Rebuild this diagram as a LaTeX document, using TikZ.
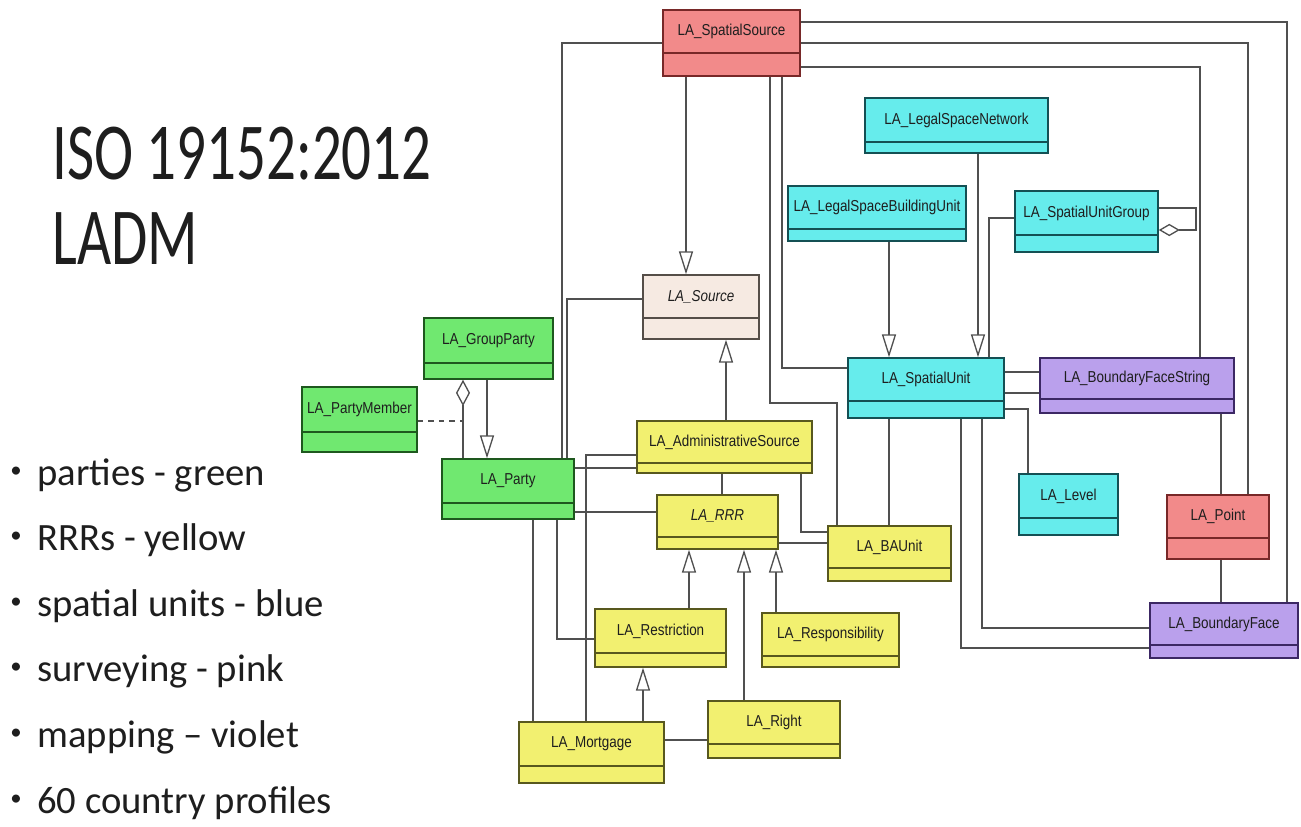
\documentclass[tikz,border=0pt]{standalone}
\usepackage{fontspec}
\setmainfont{Carlito}
\newfontfamily\umlfont{Liberation Sans}
\usepackage{graphicx}
\usepackage{tikz}
\usetikzlibrary{positioning,arrows.meta,calc,fit}
\usepackage{xcolor}

\definecolor{pinkfill}{RGB}{242,138,138}
\definecolor{pinkline}{RGB}{120,40,40}
\definecolor{beigefill}{RGB}{246,234,226}
\definecolor{beigeline}{RGB}{85,78,72}
\definecolor{yellowfill}{RGB}{242,240,112}
\definecolor{yellowline}{RGB}{88,88,30}
\definecolor{greenfill}{RGB}{112,232,112}
\definecolor{greenline}{RGB}{30,88,30}
\definecolor{cyanfill}{RGB}{102,236,236}
\definecolor{cyanline}{RGB}{20,80,84}
\definecolor{violetfill}{RGB}{186,160,236}
\definecolor{violetline}{RGB}{60,40,100}
\definecolor{linegray}{RGB}{80,80,80}
\definecolor{textgray}{RGB}{30,30,30}

\newcommand{\cname}[1]{\scalebox{0.85}[1]{#1}}

\begin{document}
\begin{tikzpicture}[
  x=0.02cm, y=-0.02cm,
  font=\umlfont\fontsize{9}{10}\selectfont,
  classbox/.style={rectangle, inner sep=0pt, line width=0.85pt},
  pinkbox/.style={fill=pinkfill, draw=pinkline},
  beigebox/.style={fill=beigefill, draw=beigeline},
  yellowbox/.style={fill=yellowfill, draw=yellowline},
  greenbox/.style={fill=greenfill, draw=greenline},
  cyanbox/.style={fill=cyanfill, draw=cyanline},
  violetbox/.style={fill=violetfill, draw=violetline},
  assoc/.style={draw=linegray, line width=0.75pt},
  gen/.style={assoc, -{Triangle[open, length=13pt, width=8pt]}},
  agg/.style={assoc, {Diamond[open, length=15pt, width=8pt]}-},
  aggloop/.style={assoc, -{Diamond[open, length=12pt, width=7pt]}},
  slidetext/.style={anchor=base west, inner sep=0pt, text=textgray},
]
  \fill[white] (0,0) rectangle (1301,827);
  \useasboundingbox (0,0) rectangle (1301,827);

  % Title
  \node[slidetext, font=\normalfont\fontsize{46}{50}\selectfont] (title) at (52,180)
    {\scalebox{0.73}[1]{ISO 19152:2012}};
  \node[slidetext, font=\normalfont\fontsize{46}{50}\selectfont] (subtitle) at (52,265)
    {\scalebox{0.73}[1]{LADM}};

  % Bullets
  \foreach \txt [count=\i] in {parties - green, RRRs - yellow, spatial units - blue,
      surveying - pink, mapping -- violet, 60 country profiles} {
    \node[slidetext, font=\normalfont\fontsize{13}{14}\selectfont] (dot\i) at (10,{485+65.6*(\i-1)}) {\raisebox{4.5pt}{•}};
    \node[slidetext, font=\normalfont\fontsize{22}{24}\selectfont] (item\i) at (37,{485+65.6*(\i-1)}) {\txt};
  }

  % Classes: name/colour/left/top/right/bottom/divider/label
  \foreach \n/\col/\xa/\ya/\xb/\yb/\yd/\lbl in {
    ss/pinkbox/663/10/800/76/53/LA\_SpatialSource,
    lsn/cyanbox/865/98/1048/153/142/LA\_LegalSpaceNetwork,
    lsbu/cyanbox/788/186/966/241/229/LA\_LegalSpaceBuildingUnit,
    sug/cyanbox/1015/191/1158/252/235/LA\_SpatialUnitGroup,
    src/beigebox/643/275/759/339/318/\textit{LA\_Source},
    su/cyanbox/848/358/1004/418/401/LA\_SpatialUnit,
    bfs/violetbox/1040/358/1234/413/399/LA\_BoundaryFaceString,
    gp/greenbox/424/318/553/379/363/LA\_GroupParty,
    pm/greenbox/302/387/417/452/432/LA\_PartyMember,
    pa/greenbox/442/459/574/519/503/LA\_Party,
    as/yellowbox/637/421/812/473/463/LA\_AdministrativeSource,
    rrr/yellowbox/657/495/778/549/537/\textit{LA\_RRR},
    ba/yellowbox/828/526/951/581/568/LA\_BAUnit,
    lv/cyanbox/1019/474/1118/535/518/LA\_Level,
    pt/pinkbox/1167/495/1269/559/538/LA\_Point,
    bf/violetbox/1150/603/1298/658/645/LA\_BoundaryFace,
    re/yellowbox/595/609/726/667/653/LA\_Restriction,
    rsp/yellowbox/762/613/899/667/656/LA\_Responsibility,
    ri/yellowbox/708/701/840/758/744/LA\_Right,
    mo/yellowbox/519/722/664/783/766/LA\_Mortgage} {
    \node[classbox, \col, fit={(\xa,\ya) (\xb,\yb)}] (\n) {};
    \draw[\col, fill=none, line width=0.85pt] (\xa,\yd) -- (\xb,\yd);
    \node[text=textgray] (\n-txt) at ({(\xa+\xb)/2},{(\ya+\yd)/2}) {\cname{\lbl}};
  }

  % Spatial source links
  \draw[gen] (ss.south -| 686,0) -- (src.north -| 686,0);
  \draw[assoc] (ss.west) -| (pa.north -| 562,0);
  \draw[assoc] (src.west |- 0,299) -| (pa.north -| 567,0);
  \draw[assoc] (ss.south -| 770,0) |- (837,403) -- (ba.north -| 837,0);
  \draw[assoc] (ss.south -| 782,0) |- (su.west |- 0,368);
  \draw[assoc] (ss.east |- 0,22) -| (bf.north -| 1287,0);
  \draw[assoc] (ss.east |- 0,43) -| (pt.north -| 1248,0);
  \draw[assoc] (ss.east |- 0,67) -| (bfs.north -| 1200,0);

  % Spatial units
  \draw[gen] (lsn.south -| 978,0) -- (su.north -| 978,0);
  \draw[gen] (lsbu.south -| 889,0) -- (su.north -| 889,0);
  \draw[assoc] (sug.west |- 0,218) -| (su.north -| 989,0);
  \draw[aggloop] (sug.east |- 0,208) -| (1196,230) -- (sug.east |- 0,230);
  \draw[assoc] (su.east |- 0,372) -- (bfs.west |- 0,372);
  \draw[assoc] (su.east |- 0,393) -- (bfs.west |- 0,393);
  \draw[assoc] (su.east |- 0,409) -| (lv.north -| 1028,0);
  \draw[assoc] (su.south -| 889,0) -- (ba.north -| 889,0);
  \draw[assoc] (su.south -| 961,0) |- (bf.west |- 0,648);
  \draw[assoc] (su.south -| 982,0) |- (bf.west |- 0,628);
  \draw[assoc] (bfs.south -| 1221,0) -- (pt.north -| 1221,0);
  \draw[assoc] (pt.south -| 1221,0) -- (bf.north -| 1221,0);

  % Sources and RRR
  \draw[gen] (as.north -| 726,0) -- (src.south -| 726,0);
  \draw[assoc] (as.south -| 722,0) -- (rrr.north -| 722,0);
  \draw[assoc] (as.south -| 801,0) |- (ba.west |- 0,532);
  \draw[assoc] (rrr.east |- 0,543) -- (ba.west |- 0,543);
  \draw[assoc] (pa.east |- 0,468) -- (as.west |- 0,468);
  \draw[assoc] (pa.east |- 0,512) -- (rrr.west |- 0,512);
  \draw[assoc] (as.west |- 0,455) -| (mo.north -| 586,0);
  \draw[assoc] (pa.south -| 533,0) -- (mo.north -| 533,0);
  \draw[assoc] (pa.south -| 557,0) |- (re.west |- 0,639);

  % Parties
  \draw[agg] (gp.south -| 463,0) -- (pa.north -| 463,0);
  \draw[gen] (gp.south -| 487,0) -- (pa.north -| 487,0);
  \coordinate (pmjoin) at (463,421);
  \draw[assoc, dashed] (pm.east |- pmjoin) -- (pmjoin);

  % RRR specialisations
  \draw[gen] (re.north -| 689,0) -- (rrr.south -| 689,0);
  \draw[gen] (ri.north -| 744,0) -- (rrr.south -| 744,0);
  \draw[gen] (rsp.north -| 776,0) -- (rrr.south -| 776,0);
  \draw[gen] (mo.north -| 643,0) -- (re.south -| 643,0);
  \draw[assoc] (mo.east |- 0,740) -- (ri.west |- 0,740);
\end{tikzpicture}
\end{document}
